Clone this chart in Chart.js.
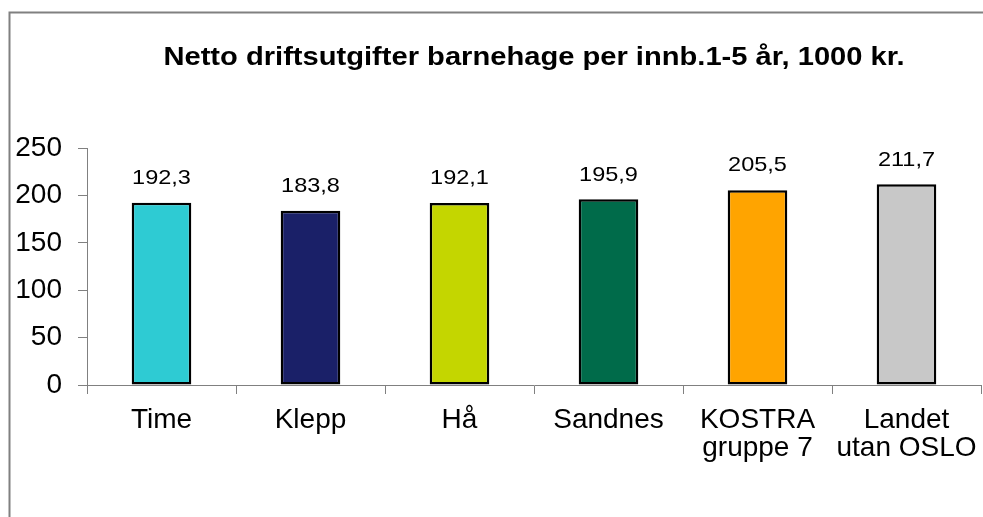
<!DOCTYPE html>
<html>
<head>
<meta charset="utf-8">
<script src="https://cdn.jsdelivr.net/npm/chart.js@4"></script>
<style>
  html, body { margin: 0; padding: 0; background: #fff; }
  #wrap { width: 983px; height: 517px; }
</style>
</head>
<body>
<div id="wrap"><canvas id="myChart" width="983" height="517"></canvas></div>
<script>
	// 데이터
	const chartTitle = 'Netto driftsutgifter barnehage per innb.1-5 år, 1000 kr.';
	const categories = ['Time', 'Klepp', 'Hå', 'Sandnes', ['KOSTRA', 'gruppe 7'], ['Landet', 'utan OSLO']];
	const values = [192.3, 183.8, 192.1, 195.9, 205.5, 211.7];
	const barColors = ['#2ECBD3', '#1A2068', '#C4D600', '#006B4A', '#FFA400', '#C8C8C8'];
	const yTicks = [0, 50, 100, 150, 200, 250];

	const fontFamily = 'Arial, "Liberation Sans", sans-serif';
	const stretchX = 1.12; // 원본 글자가 가로로 약간 넓음

	// 바깥 테두리 + 제목
	const framePlugin = {
		id: 'frame',
		beforeDraw(chart) {
			const c = chart.ctx;
			c.save();
			c.fillStyle = '#fff';
			c.fillRect(0, 0, chart.width, chart.height);
			c.strokeStyle = '#808080';
			c.lineWidth = 2;
			c.beginPath();
			c.moveTo(9.5, chart.height + 5);
			c.lineTo(9.5, 12.5);
			c.lineTo(chart.width + 5, 12.5);
			c.stroke();
			c.restore();
		},
		afterDraw(chart) {
			const c = chart.ctx;
			const area = chart.chartArea;
			c.save();
			c.translate((area.left + area.right) / 2, 58);
			c.scale(stretchX, 1);
			c.font = 'bold 26px ' + fontFamily;
			c.fillStyle = '#000';
			c.textAlign = 'center';
			c.textBaseline = 'middle';
			c.fillText(chartTitle, 0, 0);
			c.restore();
		}
	};

	// 막대 위 값 표시
	const valueLabels = {
		id: 'valueLabels',
		afterDatasetsDraw(chart) {
			const c = chart.ctx;
			const meta = chart.getDatasetMeta(0);
			meta.data.forEach((bar, i) => {
				c.save();
				c.translate(bar.x, bar.y - 14);
				c.scale(stretchX, 1);
				c.font = '21px ' + fontFamily;
				c.fillStyle = '#000';
				c.textAlign = 'center';
				c.textBaseline = 'bottom';
				c.fillText(values[i].toFixed(1).replace('.', ','), 0, 0);
				c.restore();
			});
		}
	};

	const ctx = document.querySelector('#myChart');
	const chart = new Chart(ctx, {
		type: 'bar',
		data: {
			labels: categories,
			datasets: [{
				data: values,
				backgroundColor: barColors,
				borderColor: '#000',
				borderWidth: 2.5,
				borderSkipped: false,
				categoryPercentage: 1,
				barPercentage: 0.4
			}]
		},
		options: {
			responsive: false,
			animation: false,
			devicePixelRatio: 1,
			layout: { padding: { top: 148, right: 2, left: 0, bottom: 0 } },
			plugins: {
				legend: { display: false },
				tooltip: { enabled: false },
				title: { display: false }
			},
			scales: {
				y: {
					min: 0,
					max: 250,
					afterBuildTicks: (s) => { s.ticks = yTicks.map(v => ({ value: v })); },
					afterFit: (s) => { s.width = 87; },
					border: { color: '#808080', width: 1 },
					grid: { drawOnChartArea: false, tickLength: 9, color: '#808080' },
					ticks: {
						color: '#000',
						padding: 16,
						font: { family: fontFamily, size: 28 }
					}
				},
				x: {
					afterFit: (s) => {
						s.height = 132;
						s.paddingLeft = 0;
						s.paddingRight = 0;
					},
					border: { color: '#808080', width: 1 },
					grid: { drawOnChartArea: false, tickLength: 9, color: '#808080', offset: true },
					ticks: {
						color: '#000',
						padding: 12,
						maxRotation: 0,
						autoSkip: false,
						font: { family: fontFamily, size: 28, lineHeight: 1.0 }
					}
				}
			}
		},
		plugins: [framePlugin, valueLabels]
	});
</script>
</body>
</html>
